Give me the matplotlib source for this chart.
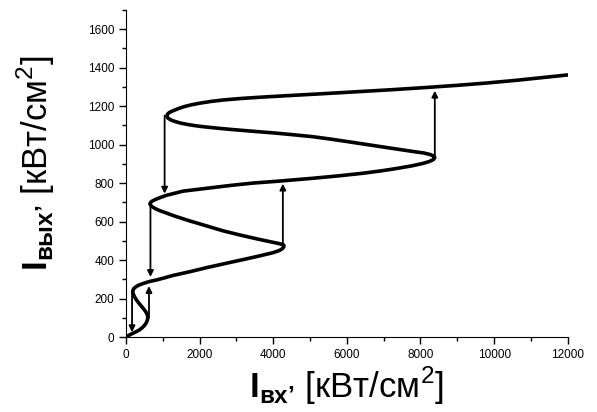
import matplotlib.pyplot as plt
from matplotlib.ticker import MultipleLocator

plt.rcParams['font.family'] = ['Liberation Sans', 'DejaVu Sans']
plt.rcParams['mathtext.fontset'] = 'custom'
plt.rcParams['mathtext.rm'] = 'Liberation Sans'
plt.rcParams['mathtext.bf'] = 'Liberation Sans:bold'

# output intensity (y) and matching input intensity (x)
i_out = [0, 8, 16, 25, 36, 48, 62, 75, 88, 100, 110, 120, 132, 145, 160, 175,
         190, 205, 218, 228, 236, 244, 252, 260, 268, 275, 282, 289, 297, 306,
         320, 340, 361, 380, 399, 418, 438, 450, 460, 468, 476, 480, 485, 492,
         500, 510, 530, 552, 578, 603, 630, 645, 658, 668, 677, 685, 692, 699, 706,
         714, 724, 737, 747, 758, 773, 788, 800, 810, 825, 838, 851, 864, 876,
         889, 902, 912, 922, 932, 940, 948, 956, 964, 977, 990, 1003, 1016,
         1029, 1041, 1051, 1060, 1070, 1078, 1085, 1095, 1103, 1111, 1120,
         1128, 1136, 1144, 1152, 1160, 1168, 1176, 1186, 1196, 1206, 1215,
         1224, 1232, 1240, 1248, 1256, 1265, 1275, 1285, 1296, 1308, 1320,
         1334, 1348, 1362]
i_in = [0, 70, 150, 250, 360, 440, 510, 555, 582, 592, 588, 570, 535, 485, 420, 355,
        295, 245, 210, 192, 186, 192, 215, 262, 330, 420, 530, 650, 840, 1020,
        1280, 1750, 2200, 2650, 3100, 3550, 3990, 4170, 4255, 4285, 4290, 4260, 4170, 4000,
        3800, 3557, 3100, 2633, 2180, 1738, 1300, 1090, 900, 790, 715, 670, 652, 665, 710,
        790, 920, 1113, 1320, 1548, 2199, 2850, 3450, 4150, 5077, 5800, 6434, 6950, 7357,
        7750, 8063, 8240, 8350, 8390, 8360, 8270, 8100, 7800, 7350, 6896, 6450, 6000,
        5540, 5077, 4550, 4050, 3400, 2900, 2500, 2000, 1720, 1500, 1330,
        1220, 1150, 1118, 1112, 1135, 1190, 1280, 1410, 1560, 1760, 2000,
        2300, 2650, 3150, 3800, 4550, 5400, 6300, 7200, 8100, 9000, 9800,
        10600, 11300, 12000]

# jump arrows: x position, start and end of output intensity
arrow_x = [165, 625, 665, 1050, 4262, 8389]
arrow_from = [236, 100, 692, 1150, 476, 932]
arrow_to = [25, 265, 312, 745, 797, 1280]

fig = plt.figure(figsize=(5.97, 4.12), dpi=100)
ax = fig.add_axes([0.211, 0.182, 0.74, 0.794])

ax.plot(i_in, i_out, color='black', lw=2.6, solid_joinstyle='round',
        solid_capstyle='round')

for x, y0, y1 in zip(arrow_x, arrow_from, arrow_to):
    ax.annotate('', xy=(x, y1), xytext=(x, y0),
                arrowprops=dict(arrowstyle='-|>', color='black', lw=1.3,
                                mutation_scale=9, shrinkA=0, shrinkB=0))

ax.set_xlim(0, 12000)
ax.set_ylim(0, 1700)
ax.xaxis.set_major_locator(MultipleLocator(2000))
ax.xaxis.set_minor_locator(MultipleLocator(1000))
ax.yaxis.set_minor_locator(MultipleLocator(100))
ax.set_yticks(range(0, 1601, 200))
ax.tick_params(which='major', direction='out', length=5, width=1, labelsize=8.5)
ax.tick_params(which='minor', direction='out', length=3, width=1)
ax.spines['top'].set_visible(False)
ax.spines['right'].set_visible(False)

ax.set_xlabel(r'$\mathbf{I}_{\mathbf{вх’}}$ [кВт/см$^{2}$]', fontsize=25)
ax.set_ylabel(r'$\mathbf{I}_{\mathbf{вых’}}$ [кВт/см$^{2}$]', fontsize=25)
ax.xaxis.set_label_coords(0.5, -0.085)
ax.yaxis.set_label_coords(-0.157, 0.53)

fig.savefig('out.png', dpi=100)
